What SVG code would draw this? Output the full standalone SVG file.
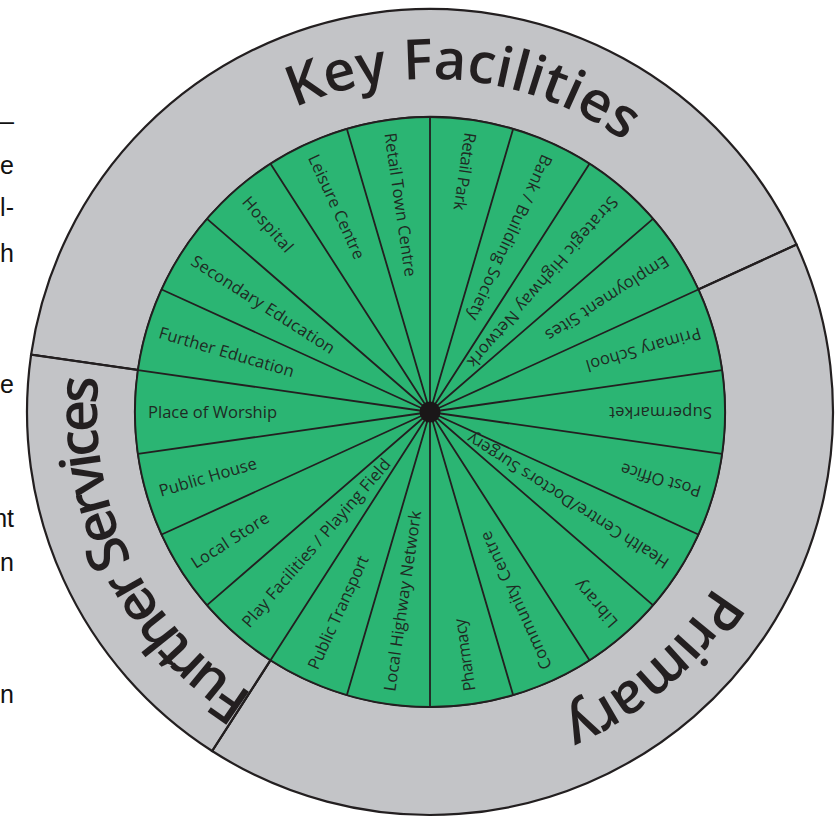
<svg xmlns="http://www.w3.org/2000/svg" xmlns:xlink="http://www.w3.org/1999/xlink" width="840" height="817" viewBox="0 0 840 817">
<style>
.ring{fill:#c3c4c7;stroke:#231f20;stroke-width:2.2}
.wedge{fill:#2bb573}
.lbl{font-family:"Open Sans","Noto Sans",sans-serif;font-size:16.5px;fill:#1f2a23}
.ttl{font-family:"Open Sans","Noto Sans",sans-serif;font-size:56px;font-weight:600;fill:#231f20}
.spoke{stroke:#231f20;stroke-width:1.8;fill:none}
.frag{font-family:"Liberation Sans",Arial,sans-serif;font-size:25px;fill:#111}
</style>
<defs>
<path id="arc" d="M430,745 A333,333 0 1,1 430,79 A333,333 0 1,1 430,745" fill="none"/>
</defs>
<rect width="840" height="817" fill="#ffffff"/>

<g id="margin-text" class="frag" text-anchor="end">
<text x="14" y="130">—</text>
<text x="14" y="174">e</text>
<text x="14" y="216">l-</text>
<text x="14" y="262">h</text>
<text x="14" y="393">e</text>
<text x="14" y="527">nt</text>
<text x="14" y="571">n</text>
<text x="14" y="703">n</text>
</g>

<g id="ring-key-facilities">
<path class="ring" d="M31.10,354.65 A403,403 0 0,1 796.58,244.59 L698.34,289.45 A295,295 0 0,0 138.00,370.02 Z"/>
<text class="ttl"><textPath xlink:href="#arc" href="#arc" startOffset="1080" text-anchor="middle" textLength="347" lengthAdjust="spacing">Key Facilities</textPath></text>
</g>
<g id="ring-primary">
<path class="ring" d="M796.58,244.59 A403,403 0 0,1 212.12,751.02 L270.51,660.17 A295,295 0 0,0 698.34,289.45 Z"/>
<text class="ttl"><textPath xlink:href="#arc" href="#arc" startOffset="1854" text-anchor="middle" textLength="205" lengthAdjust="spacing">Primary</textPath></text>
</g>
<g id="ring-further-services">
<path class="ring" d="M212.12,751.02 A403,403 0 0,1 31.10,354.65 L138.00,370.02 A295,295 0 0,0 270.51,660.17 Z"/>
<text class="ttl"><textPath xlink:href="#arc" href="#arc" startOffset="372" text-anchor="middle" textLength="372" lengthAdjust="spacing">Further Services</textPath></text>
</g>

<circle cx="430" cy="412" r="295" class="wedge"/>

<g class="lbl">
<g id="s-retail-park"><path class="wedge" d="M430,412 L430,117 A295,295 0 0,1 513.11,128.95 Z"/><text transform="rotate(98.182 430 412)" x="148" y="417.5" textLength="78">Retail Park</text></g>
<g id="s-bank"><path class="wedge" d="M430,412 L513.11,128.95 A295,295 0 0,1 589.49,163.83 Z"/><text transform="rotate(114.545 430 412)" x="148" y="417.5" textLength="180">Bank / Building Society</text></g>
<g id="s-strategic-highway"><path class="wedge" d="M430,412 L589.49,163.83 A295,295 0 0,1 652.95,218.82 Z"/><text transform="rotate(130.909 430 412)" x="148" y="417.5" textLength="220">Strategic Highway Network</text></g>
<g id="s-employment"><path class="wedge" d="M430,412 L652.95,218.82 A295,295 0 0,1 698.34,289.45 Z"/><text transform="rotate(147.273 430 412)" x="148" y="417.5" textLength="143">Employment Sites</text></g>
<g id="s-primary-school"><path class="wedge" d="M430,412 L698.34,289.45 A295,295 0 0,1 722.00,370.02 Z"/><text transform="rotate(163.636 430 412)" x="148" y="417.5" textLength="119">Primary School</text></g>
<g id="s-supermarket"><path class="wedge" d="M430,412 L722.00,370.02 A295,295 0 0,1 722.00,453.98 Z"/><text transform="rotate(180 430 412)" x="148" y="417.5" textLength="103">Supermarket</text></g>
<g id="s-post-office"><path class="wedge" d="M430,412 L722.00,453.98 A295,295 0 0,1 698.34,534.55 Z"/><text transform="rotate(196.364 430 412)" x="148" y="417.5" textLength="83">Post Office</text></g>
<g id="s-health-centre"><path class="wedge" d="M430,412 L698.34,534.55 A295,295 0 0,1 652.95,605.18 Z"/><text transform="rotate(212.727 430 412)" x="148" y="417.5" textLength="236">Health Centre/Doctors Surgery</text></g>
<g id="s-library"><path class="wedge" d="M430,412 L652.95,605.18 A295,295 0 0,1 589.49,660.17 Z"/><text transform="rotate(229.091 430 412)" x="148" y="417.5" textLength="57">Library</text></g>
<g id="s-community-centre"><path class="wedge" d="M430,412 L589.49,660.17 A295,295 0 0,1 513.11,695.05 Z"/><text transform="rotate(245.455 430 412)" x="148" y="417.5" textLength="150">Community Centre</text></g>
<g id="s-pharmacy"><path class="wedge" d="M430,412 L513.11,695.05 A295,295 0 0,1 430,707 Z"/><text transform="rotate(261.818 430 412)" x="148" y="417.5" textLength="73">Pharmacy</text></g>
<g id="s-local-highway"><path class="wedge" d="M430,412 L430,707 A295,295 0 0,1 346.89,695.05 Z"/><text transform="rotate(278.182 430 412)" x="148" y="417.5" textLength="182">Local Highway Network</text></g>
<g id="s-public-transport"><path class="wedge" d="M430,412 L346.89,695.05 A295,295 0 0,1 270.51,660.17 Z"/><text transform="rotate(294.545 430 412)" x="148" y="417.5" textLength="123">Public Transport</text></g>
<g id="s-play-facilities"><path class="wedge" d="M430,412 L270.51,660.17 A295,295 0 0,1 207.05,605.18 Z"/><text transform="rotate(310.909 430 412)" x="148" y="417.5" textLength="217">Play Facilities / Playing Field</text></g>
<g id="s-local-store"><path class="wedge" d="M430,412 L207.05,605.18 A295,295 0 0,1 161.66,534.55 Z"/><text transform="rotate(327.273 430 412)" x="148" y="417.5" textLength="89">Local Store</text></g>
<g id="s-public-house"><path class="wedge" d="M430,412 L161.66,534.55 A295,295 0 0,1 138.00,453.98 Z"/><text transform="rotate(343.636 430 412)" x="148" y="417.5" textLength="101">Public House</text></g>
<g id="s-place-of-worship"><path class="wedge" d="M430,412 L138.00,453.98 A295,295 0 0,1 138.00,370.02 Z"/><text x="148" y="417.5" textLength="129">Place of Worship</text></g>
<g id="s-further-education"><path class="wedge" d="M430,412 L138.00,370.02 A295,295 0 0,1 161.66,289.45 Z"/><text transform="rotate(16.364 430 412)" x="148" y="417.5" textLength="140">Further Education</text></g>
<g id="s-secondary-education"><path class="wedge" d="M430,412 L161.66,289.45 A295,295 0 0,1 207.05,218.82 Z"/><text transform="rotate(32.727 430 412)" x="148" y="417.5" textLength="167">Secondary Education</text></g>
<g id="s-hospital"><path class="wedge" d="M430,412 L207.05,218.82 A295,295 0 0,1 270.51,163.83 Z"/><text transform="rotate(49.091 430 412)" x="148" y="417.5" textLength="68">Hospital</text></g>
<g id="s-leisure-centre"><path class="wedge" d="M430,412 L270.51,163.83 A295,295 0 0,1 346.89,128.95 Z"/><text transform="rotate(65.455 430 412)" x="148" y="417.5" textLength="113">Leisure Centre</text></g>
<g id="s-retail-town-centre"><path class="wedge" d="M430,412 L346.89,128.95 A295,295 0 0,1 430,117 Z"/><text transform="rotate(81.818 430 412)" x="148" y="417.5" textLength="145">Retail Town Centre</text></g>
</g>

<g id="connectors" class="spoke">
<circle cx="430" cy="412" r="295"/>
<path d="M430,412 L430,117 M430,412 L513.11,128.95 M430,412 L589.49,163.83 M430,412 L652.95,218.82 M430,412 L698.34,289.45 M430,412 L722.00,370.02 M430,412 L722.00,453.98 M430,412 L698.34,534.55 M430,412 L652.95,605.18 M430,412 L589.49,660.17 M430,412 L513.11,695.05 M430,412 L430,707 M430,412 L346.89,695.05 M430,412 L270.51,660.17 M430,412 L207.05,605.18 M430,412 L161.66,534.55 M430,412 L138.00,453.98 M430,412 L138.00,370.02 M430,412 L161.66,289.45 M430,412 L207.05,218.82 M430,412 L270.51,163.83 M430,412 L346.89,128.95"/>
<path d="M698.34,289.45 L796.58,244.59 M270.51,660.17 L212.12,751.02 M138.00,370.02 L31.10,354.65"/>
</g>
<circle id="hub" cx="430" cy="412" r="10.5" fill="#1a1718"/>
</svg>
